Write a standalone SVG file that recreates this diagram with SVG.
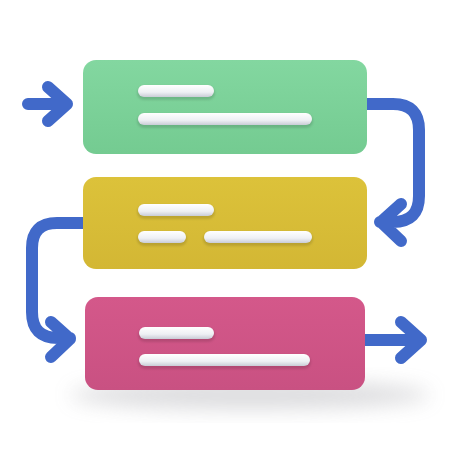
<svg xmlns="http://www.w3.org/2000/svg" width="450" height="450" viewBox="0 0 450 450">
<defs>
<filter id="blur" x="-50%" y="-50%" width="200%" height="200%"><feGaussianBlur stdDeviation="10"/></filter>
<filter id="soft" x="-20%" y="-50%" width="140%" height="200%"><feGaussianBlur stdDeviation="1.2"/></filter>
<linearGradient id="gG" x1="0" y1="0" x2="0" y2="1"><stop offset="0" stop-color="#83d7a0"/><stop offset="1" stop-color="#74cb91"/></linearGradient>
<linearGradient id="gY" x1="0" y1="0" x2="0" y2="1"><stop offset="0" stop-color="#dcc23a"/><stop offset="1" stop-color="#d3b734"/></linearGradient>
<linearGradient id="gP" x1="0" y1="0" x2="0" y2="1"><stop offset="0" stop-color="#d4588a"/><stop offset="1" stop-color="#c95182"/></linearGradient>
<linearGradient id="bar" x1="0" y1="0" x2="0" y2="1"><stop offset="0" stop-color="#ffffff"/><stop offset="0.6" stop-color="#eef0f4"/><stop offset="1" stop-color="#c9ccd6"/></linearGradient>
</defs>
<style>
.conn{fill:none;stroke:#4169c9;stroke-width:12;stroke-linecap:round;stroke-linejoin:round}
.bar{fill:url(#bar)}
.barsh{fill:#000;fill-opacity:0.13}
</style>
<rect width="450" height="450" fill="#ffffff"/>
<ellipse cx="250" cy="395" rx="180" ry="14" fill="#9a9aa0" opacity="0.35" filter="url(#blur)"/>
<g id="connectors">
<path class="conn" d="M28 104 H66 M48 87 L67 104 L48 121"/>
<path class="conn" d="M362 104 H393 Q419 104 419 130 V196 Q419 222 393 222 H380 M401 204 L381 222 L401 241"/>
<path class="conn" d="M88 223 H57 Q32 223 32 248 V312 Q32 338 58 338 H70 M51 322 L70 339 L51 357"/>
<path class="conn" d="M360 340 H420 M401 322 L421 340 L401 358"/>
</g>
<g id="node-green">
<rect x="83" y="60" width="284" height="94" rx="13" fill="url(#gG)"/>
<rect class="barsh" x="137" y="86" width="78" height="14" rx="7" filter="url(#soft)"/>
<rect class="bar" x="138" y="85" width="76" height="12" rx="6"/>
<rect class="barsh" x="137" y="114" width="176" height="14" rx="7" filter="url(#soft)"/>
<rect class="bar" x="138" y="113" width="174" height="12" rx="6"/>
</g>
<g id="node-yellow">
<rect x="83" y="177" width="284" height="92" rx="13" fill="url(#gY)"/>
<rect class="barsh" x="137" y="205" width="78" height="14" rx="7" filter="url(#soft)"/>
<rect class="bar" x="138" y="204" width="76" height="12" rx="6"/>
<rect class="barsh" x="137" y="232" width="50" height="14" rx="7" filter="url(#soft)"/>
<rect class="bar" x="138" y="231" width="48" height="12" rx="6"/>
<rect class="barsh" x="203" y="232" width="110" height="14" rx="7" filter="url(#soft)"/>
<rect class="bar" x="204" y="231" width="108" height="12" rx="6"/>
</g>
<g id="node-pink">
<rect x="85" y="297" width="280" height="93" rx="13" fill="url(#gP)"/>
<rect class="barsh" x="138" y="328" width="77" height="14" rx="7" filter="url(#soft)"/>
<rect class="bar" x="139" y="327" width="75" height="12" rx="6"/>
<rect class="barsh" x="138" y="355" width="173" height="14" rx="7" filter="url(#soft)"/>
<rect class="bar" x="139" y="354" width="171" height="12" rx="6"/>
</g>
</svg>
